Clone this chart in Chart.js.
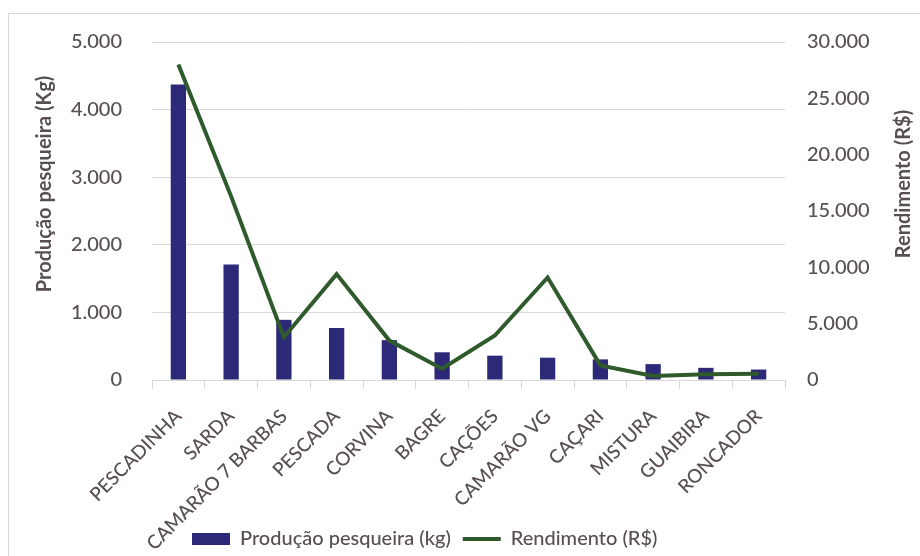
<!DOCTYPE html>
<html>
<head>
<meta charset="utf-8">
<script src="https://cdn.jsdelivr.net/npm/chart.js@4"></script>
<style>
  html, body { margin: 0; padding: 0; background: #fff; overflow: hidden; }
  #frame { position: absolute; left: 8px; top: 13px; width: 1000px; height: 1000px; border: 1px solid #d9d9d9; }
  #wrap { position: absolute; left: 0; top: 0; width: 920px; height: 556px; }
</style>
</head>
<body>
<div id="frame"></div>
<div id="wrap"><canvas id="chart"></canvas></div>
<script>
// dados
const categories = ['PESCADINHA', 'SARDA', 'CAMARÃO 7 BARBAS', 'PESCADA', 'CORVINA', 'BAGRE',
  'CAÇÕES', 'CAMARÃO VG', 'CAÇARI', 'MISTURA', 'GUAIBIRA', 'RONCADOR'];
const producao = [4370, 1710, 890, 770, 590, 410, 360, 330, 305, 235, 180, 155];
const rendimento = [28000, 16300, 3800, 9400, 3500, 1000, 3950, 9100, 1300, 350, 500, 550];
const leftTicks = [0, 1000, 2000, 3000, 4000, 5000];
const rightTicks = [0, 5000, 10000, 15000, 20000, 25000, 30000];

const textColor = '#574f51';
const fontFamily = 'Lato, "Open Sans", sans-serif';
const legendPad = 12;

// formato 5.000
function fmt(v) {
  return String(v).replace(/\B(?=(\d{3})+(?!\d))/g, '.');
}

// titulos dos eixos, os dois lidos de baixo para cima
const axisTitles = {
  id: 'axisTitles',
  afterDraw(chart) {
    const ctx = chart.ctx;
    ctx.save();
    ctx.fillStyle = textColor;
    ctx.font = 'bold 20px ' + fontFamily;
    ctx.textAlign = 'center';
    ctx.textBaseline = 'middle';
    [[45, 'Produção pesqueira (Kg)'], [904, 'Rendimento (R$)']].forEach(([x, t]) => {
      ctx.save();
      ctx.translate(x, 184);
      ctx.rotate(-Math.PI / 2);
      ctx.fillText(t, 0, 0);
      ctx.restore();
    });
    ctx.restore();
  }
};

// legenda um pouco à esquerda, como no original
const moveLegend = {
  id: 'moveLegend',
  afterLayout(chart) {
    const lg = chart.legend;
    const w = lg.right - lg.left;
    const left = (2 * 192 - w - legendPad + lg.lineWidths[0]) / 2;
    lg.left = left;
    lg.right = left + w;
    const h = lg.bottom - lg.top;
    lg.top = 537 - legendPad - 8;
    lg.bottom = lg.top + h;
  }
};

new Chart(document.getElementById('chart'), {
  data: {
    labels: categories,
    datasets: [
      {
        type: 'line',
        label: 'Rendimento (R$)',
        data: rendimento,
        yAxisID: 'y1',
        borderColor: '#2e5a2c',
        backgroundColor: '#2e5a2c',
        borderWidth: 4,
        pointRadius: 0,
        tension: 0,
        order: 0,
      },
      {
        type: 'bar',
        label: 'Produção pesqueira (kg)',
        data: producao,
        yAxisID: 'y',
        backgroundColor: '#2c2978',
        categoryPercentage: 1,
        barPercentage: 0.29,
        order: 1,
      },
    ],
  },
  options: {
    responsive: true,
    maintainAspectRatio: false,
    animation: false,
    // a legenda é reposicionada, então não ocupa espaço embaixo
    layout: { padding: { top: 33, left: 0, right: 0, bottom: -(20 + legendPad + 10) } },
    plugins: {
      tooltip: { enabled: false },
      legend: {
        position: 'bottom',
        reverse: true,
        labels: {
          color: textColor,
          font: { family: fontFamily, size: 20, weight: 500 },
          usePointStyle: true,
          pointStyleWidth: 38,
          boxHeight: 12,
          padding: legendPad,
          generateLabels(chart) {
            return chart.data.datasets.map((ds, i) => ({
              text: ds.label,
              fillStyle: ds.backgroundColor,
              strokeStyle: ds.type === 'line' ? ds.borderColor : ds.backgroundColor,
              lineWidth: ds.type === 'line' ? 4 : 0,
              pointStyle: ds.type === 'line' ? 'line' : 'rect',
              fontColor: textColor,
              datasetIndex: i,
            }));
          },
        },
      },
    },
    scales: {
      x: {
        afterFit(s) { s.height = 176; },
        grid: { offset: true, drawOnChartArea: false, color: '#d9d9d9', tickLength: 9 },
        border: { color: '#d9d9d9' },
        ticks: {
          color: textColor,
          font: { family: fontFamily, size: 19, weight: 500 },
          minRotation: 45,
          maxRotation: 45,
          padding: 16,
          autoSkip: false,
        },
      },
      y: {
        position: 'left',
        min: 0,
        max: 5000,
        afterFit(s) { s.width = 152; },
        afterBuildTicks(s) { s.ticks = leftTicks.map(v => ({ value: v })); },
        grid: { color: '#d9d9d9', drawTicks: false },
        border: { display: false },
        ticks: {
          color: textColor,
          font: { family: fontFamily, size: 20, weight: 500 },
          padding: 30,
          callback: v => fmt(v),
        },
      },
      y1: {
        position: 'right',
        min: 0,
        max: 30000,
        afterFit(s) { s.width = 135; },
        afterBuildTicks(s) { s.ticks = rightTicks.map(v => ({ value: v })); },
        grid: { display: false, drawTicks: false },
        border: { display: false },
        ticks: {
          color: textColor,
          font: { family: fontFamily, size: 20, weight: 500 },
          padding: 22,
          callback: v => fmt(v),
        },
      },
    },
  },
  plugins: [axisTitles, moveLegend],
});
</script>
</body>
</html>
